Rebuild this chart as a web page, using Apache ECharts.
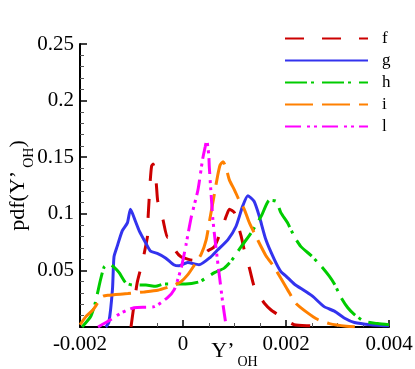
<!DOCTYPE html>
<html lang="en">
<head>
    <meta charset="UTF-8">
    <title>pdf</title>
    <script src="https://cdn.jsdelivr.net/npm/echarts@6/dist/echarts.min.js"></script>
    <style>
        html, body { margin: 0; padding: 0; background: #fff; }
        #main { width: 415px; height: 369px; }
    </style>
</head>
<body>
<div id="main"></div>
<script>
    // data
    var fX = [-0.00101, -0.00095, -0.00089, -0.00079, -0.00074, -0.00069, -0.00068, -0.00066, -0.00064, -0.00061, -0.00058, -0.00052, -0.00049, -0.00039, -0.0003, -0.00023, -0.00018, -0.00014, -0.00004, 0.00009, 0.00019, 0.00032, 0.00047, 0.00061, 0.00074, 0.00084, 0.0009, 0.001, 0.00105, 0.00113, 0.00119, 0.00129, 0.00138, 0.00148, 0.00158, 0.00171, 0.00184, 0.002, 0.00216, 0.00249, 0.00278];
    var fY = [0, 0.02, 0.039, 0.057, 0.068, 0.08, 0.095, 0.111, 0.127, 0.142, 0.144, 0.127, 0.111, 0.095, 0.079, 0.079, 0.073, 0.067, 0.062, 0.06, 0.059, 0.061, 0.067, 0.071, 0.085, 0.098, 0.104, 0.101, 0.093, 0.08, 0.068, 0.052, 0.036, 0.028, 0.021, 0.015, 0.011, 0.006, 0.002, 0.001, 0];

    var gX = [-0.0015, -0.00144, -0.00137, -0.00134, -0.00128, -0.00118, -0.00108, -0.00102, -0.00092, -0.00085, -0.00072, -0.00063, -0.0005, -0.00034, -0.00018, -0.00008, 0.00009, 0.00031, 0.00054, 0.00067, 0.00087, 0.00103, 0.00116, 0.00126, 0.00138, 0.00148, 0.00161, 0.00177, 0.0019, 0.002, 0.00216, 0.00236, 0.00252, 0.00274, 0.00294, 0.00313, 0.00333, 0.00365, 0.004];
    var gY = [0, 0.004, 0.033, 0.062, 0.071, 0.085, 0.092, 0.104, 0.093, 0.085, 0.074, 0.067, 0.065, 0.061, 0.055, 0.054, 0.057, 0.055, 0.062, 0.068, 0.077, 0.089, 0.107, 0.116, 0.111, 0.098, 0.077, 0.06, 0.049, 0.045, 0.038, 0.032, 0.027, 0.018, 0.014, 0.008, 0.004, 0.002, 0.001];

    var hX = [-0.00196, -0.00179, -0.0017, -0.0016, -0.00153, -0.00144, -0.00134, -0.00124, -0.00111, -0.00098, -0.00072, -0.00053, -0.00037, -0.00014, 0.00005, 0.00032, 0.00061, 0.0008, 0.00093, 0.00113, 0.00132, 0.00152, 0.00168, 0.00181, 0.0019, 0.00203, 0.00216, 0.00229, 0.00249, 0.00268, 0.00284, 0.00294, 0.00307, 0.0032, 0.00333, 0.00352, 0.00378, 0.004];
    var hY = [0, 0.0095, 0.022, 0.042, 0.053, 0.056, 0.053, 0.048, 0.039, 0.037, 0.037, 0.036, 0.038, 0.038, 0.038, 0.04, 0.048, 0.052, 0.058, 0.071, 0.083, 0.098, 0.112, 0.111, 0.101, 0.092, 0.08, 0.071, 0.063, 0.054, 0.045, 0.038, 0.026, 0.017, 0.011, 0.005, 0.003, 0.002];

    var iX = [-0.002, -0.00188, -0.00175, -0.00166, -0.00156, -0.00146, -0.00107, -0.00076, -0.00049, -0.0003, -0.00018, -0.00004, 0.00009, 0.00021, 0.00035, 0.00045, 0.00052, 0.0006, 0.00067, 0.00072, 0.00078, 0.00084, 0.0009, 0.001, 0.00109, 0.00119, 0.00129, 0.00145, 0.00161, 0.00177, 0.0019, 0.00203, 0.00219, 0.00242, 0.00262, 0.00284, 0.00317, 0.00346];
    var iY = [0.002, 0.0095, 0.015, 0.021, 0.027, 0.028, 0.0295, 0.031, 0.0325, 0.035, 0.037, 0.04, 0.046, 0.054, 0.064, 0.077, 0.095, 0.115, 0.133, 0.143, 0.146, 0.14, 0.13, 0.121, 0.112, 0.104, 0.092, 0.077, 0.063, 0.053, 0.043, 0.033, 0.021, 0.0125, 0.0066, 0.003, 0.0007, 0];

    var lX = [-0.00165, -0.0014, -0.0012, -0.00095, -0.00056, -0.0003, -0.00017, -0.00008, -0.00002, 0.00006, 0.00016, 0.00029, 0.00038, 0.00043, 0.00046, 0.0005, 0.00051, 0.00054, 0.00058, 0.00064, 0.00071, 0.00077, 0.00084];
    var lY = [0, 0.0066, 0.0125, 0.017, 0.018, 0.026, 0.033, 0.045, 0.055, 0.073, 0.097, 0.121, 0.148, 0.159, 0.165, 0.152, 0.142, 0.121, 0.095, 0.07, 0.044, 0.022, 0];

    var names = ['f', 'g', 'h', 'i', 'l'];
    var colors = ['#cc0000', '#3333ee', '#00cc00', '#ff8000', '#ff00ff'];
    var dashes = [[19, 18], 'solid', [22, 4, 3, 8], [28, 9], [16, 6, 3, 4, 3, 5]];

    function pairs(xs, ys) {
        var out = [];
        for (var i = 0; i < xs.length; i++) out.push([xs[i], ys[i]]);
        return out;
    }
    var allData = [pairs(fX, fY), pairs(gX, gY), pairs(hX, hY), pairs(iX, iY), pairs(lX, lY)];

    var serif = '"Liberation Serif", "DejaVu Serif", serif';
    var myChart = echarts.init(document.getElementById('main'));

    var series = [];
    for (var k = 0; k < names.length; k++) {
        series.push({
            name: names[k],
            type: 'line',
            data: allData[k],
            symbol: 'none',
            smooth: 0.2,
            color: colors[k],
            lineStyle: { color: colors[k], width: 3, type: dashes[k] }
        });
    }

    // main text + subscript for the axis names (top padding pushes the subscript down)
    var nameRich = {
        m: { fontFamily: serif, fontSize: 22, lineHeight: 22, color: '#000' },
        s: { fontFamily: serif, fontSize: 14, lineHeight: 14, color: '#000', padding: [22, 0, 0, 3] }
    };

    var option = {
        animation: false,
        backgroundColor: '#fff',
        grid: { left: 80, right: 26, top: 44, bottom: 42, outerBoundsMode: 'none', containLabel: false },
        legend: {
            data: names,
            orient: 'vertical',
            left: 284,
            top: 30,
            padding: 0,
            itemWidth: 83,
            itemHeight: 14,
            itemGap: 5,
            itemStyle: { color: 'transparent', borderColor: 'transparent', borderWidth: 0, opacity: 0 },
            textStyle: { fontFamily: serif, fontSize: 17, lineHeight: 17, color: '#000', padding: [0, 0, 0, 9] }
        },
        xAxis: {
            type: 'value',
            min: -0.002,
            max: 0.004,
            interval: 0.002,
            name: '{m|Y’}{s|OH}',
            nameLocation: 'middle',
            nameGap: 13,
            nameMoveOverlap: false,
            nameTextStyle: { rich: nameRich },
            axisLine: { onZero: false, lineStyle: { color: '#000', width: 2 } },
            axisTick: { inside: true, length: 7, lineStyle: { color: '#000', width: 1.5 } },
            minorTick: { show: true, splitNumber: 4, length: 4, lineStyle: { color: '#555', width: 1 } },
            axisLabel: { fontFamily: serif, fontSize: 21, color: '#000', margin: 7 },
            splitLine: { show: false }
        },
        yAxis: {
            type: 'value',
            min: 0,
            max: 0.25,
            interval: 0.05,
            name: '{m|pdf(Y’}{s|OH}{m|)}',
            nameLocation: 'middle',
            nameRotate: 90,
            nameGap: 51,
            nameMoveOverlap: false,
            nameTextStyle: { rich: nameRich },
            axisLine: { show: true, onZero: false, lineStyle: { color: '#000', width: 2 } },
            axisTick: { show: true, inside: true, length: 7, lineStyle: { color: '#000', width: 1.5 } },
            minorTick: { show: true, splitNumber: 5, length: 4, lineStyle: { color: '#555', width: 1 } },
            axisLabel: {
                fontFamily: serif, fontSize: 21, color: '#000', margin: 6,
                formatter: function (v) { return v === 0 ? '' : String(v); }
            },
            splitLine: { show: false }
        },
        series: series
    };
    myChart.setOption(option);
</script>
</body>
</html>
